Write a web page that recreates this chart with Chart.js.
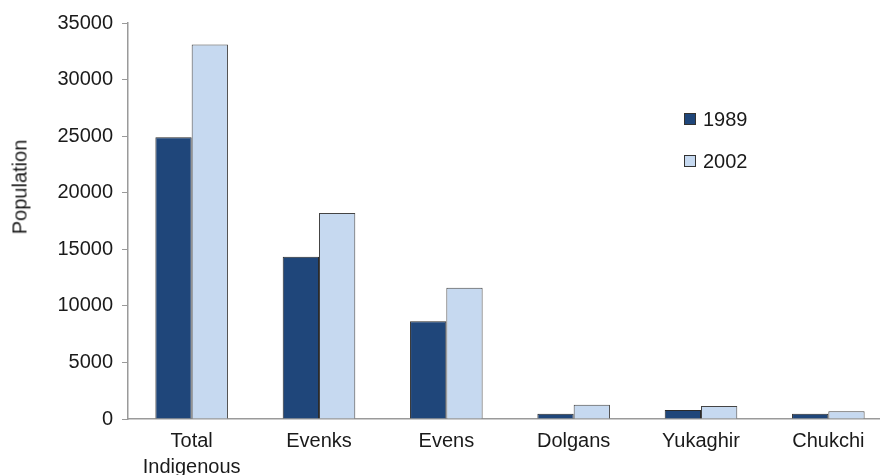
<!DOCTYPE html>
<html>
<head>
<meta charset="utf-8">
<script src="https://cdn.jsdelivr.net/npm/chart.js@4"></script>
<style>
  html, body { margin: 0; padding: 0; background: #fff; overflow: hidden; }
  #wrap { position: relative; width: 892px; height: 475px; }
  .legend { position: absolute; left: 684px; font: 20px "Liberation Sans", Arial, sans-serif; color: #1a1a1a; line-height: 24px; }
  .legend span { display: inline-block; width: 10px; height: 10px; border: 1px solid #333; margin-right: 7px; vertical-align: 1px; }
  #ytitle { position: absolute; left: 20px; top: 187px; font: 20px "Liberation Sans", Arial, sans-serif; color: #1a1a1a;
            transform: translate(-50%, -50%) rotate(-90deg); white-space: nowrap; }
</style>
</head>
<body>
<div id="wrap">
  <canvas id="popChart" width="892" height="475"></canvas>
  <div id="ytitle">Population</div>
  <div class="legend" style="top:107px"><span style="background:#1f467a"></span>1989</div>
  <div class="legend" style="top:149px"><span style="background:#c6d9f0"></span>2002</div>
</div>
<script>
// Indigenous population by people, censuses 1989 and 2002
const categories = [["Total", "Indigenous"], "Evenks", "Evens", "Dolgans", "Yukaghir", "Chukchi"];
const pop1989 = [24900, 14350, 8650, 470, 800, 470];
const pop2002 = [33100, 18200, 11600, 1260, 1150, 680];
const yTicks = [0, 5000, 10000, 15000, 20000, 25000, 30000, 35000];

const font = { family: "'Liberation Sans', Arial, sans-serif", size: 20, lineHeight: 1.3 };

const ctx = document.getElementById("popChart").getContext("2d");

new Chart(ctx, {
  type: "bar",
  data: {
    labels: categories,
    datasets: [
      {
        label: "1989",
        data: pop1989,
        backgroundColor: "#1f467a",
        borderColor: "#2a2a2a",
        borderWidth: 1,
        borderSkipped: "bottom",
        barPercentage: 1,
        categoryPercentage: 0.57,
      },
      {
        label: "2002",
        data: pop2002,
        backgroundColor: "#c6d9f0",
        borderColor: "#444",
        borderWidth: 1,
        borderSkipped: "bottom",
        barPercentage: 1,
        categoryPercentage: 0.57,
      },
    ],
  },
  options: {
    responsive: false,
    animation: false,
    layout: { padding: { top: 23, left: 0, right: 0, bottom: 0 } },
    plugins: { legend: { display: false }, tooltip: { enabled: false } },
    scales: {
      x: {
        grid: { display: false },
        border: { display: true, color: "#9a9a9a", width: 1.5 },
        ticks: { color: "#1a1a1a", font: font, padding: 1, maxRotation: 0 },
        afterFit: (scale) => { scale.height = 56; },
      },
      y: {
        min: 0,
        max: 35000,
        afterBuildTicks: (scale) => { scale.ticks = yTicks.map((v) => ({ value: v })); },
        grid: { drawOnChartArea: false, drawTicks: true, tickLength: 6, color: "#9a9a9a" },
        border: { display: true, color: "#9a9a9a", width: 1.5 },
        ticks: { color: "#1a1a1a", font: { family: font.family, size: 20 }, padding: 9, callback: (v) => String(v) },
        afterFit: (scale) => { scale.width = 128; },
      },
    },
  },
});
</script>
</body>
</html>
